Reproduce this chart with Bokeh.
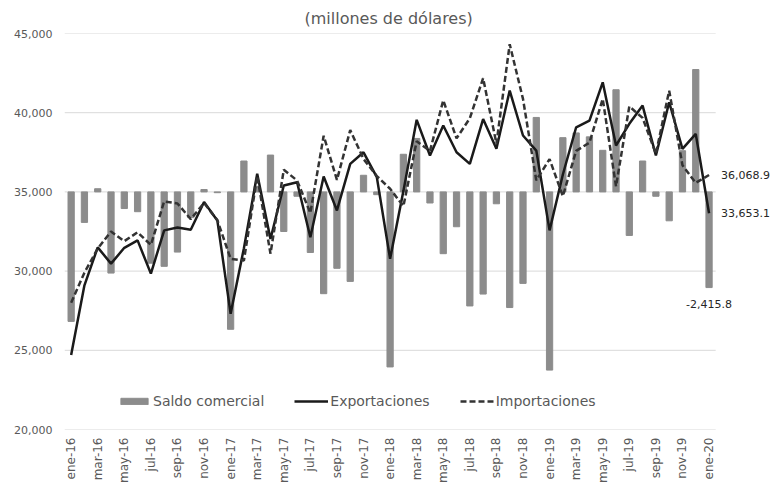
from bokeh.plotting import figure
from bokeh.models import (Range1d, FixedTicker, NumeralTickFormatter, Legend, LegendItem,
                          Label, ColumnDataSource)
from bokeh.embed import file_html
from bokeh.resources import INLINE
import math

months = ["ene-16", "feb-16", "mar-16", "abr-16", "may-16", "jun-16", "jul-16", "ago-16", "sep-16", "oct-16", "nov-16", "dic-16",
          "ene-17", "feb-17", "mar-17", "abr-17", "may-17", "jun-17", "jul-17", "ago-17", "sep-17", "oct-17", "nov-17", "dic-17",
          "ene-18", "feb-18", "mar-18", "abr-18", "may-18", "jun-18", "jul-18", "ago-18", "sep-18", "oct-18", "nov-18", "dic-18",
          "ene-19", "feb-19", "mar-19", "abr-19", "may-19", "jun-19", "jul-19", "ago-19", "sep-19", "oct-19", "nov-19", "dic-19",
          "ene-20"]

exportaciones = [24700, 29100, 31500, 30470, 31470, 31940, 29840, 32570, 32750, 32610, 34360, 33200,
                 27310, 31450, 36140, 32030, 35400, 35610, 32140, 35970, 33830, 36770, 37500, 35930,
                 30780, 35050, 39550, 37300, 39190, 37500, 36770, 39600, 37720, 41400, 38560, 37610,
                 32570, 36100, 39080, 39500, 41920, 37930, 39300, 40450, 37300, 40660, 37720, 38660,
                 33653.1]

importaciones = [28000, 29900, 31420, 32500, 31890, 32450, 31650, 34400, 34270, 33280, 34300, 33220,
                 30780, 30670, 36000, 31100, 36400, 35720, 33670, 38540, 35760, 38900, 37080, 36000,
                 35200, 34100, 38200, 37580, 40780, 38380, 39650, 42180, 38050, 44320, 40870, 35730,
                 37070, 34730, 37590, 38110, 40870, 35350, 40400, 39670, 37410, 41390, 36680, 35570,
                 36068.9]

saldo = [-3270, -770, 80, -2050, -420, -500, -1800, -1880, -1520, -650, 60, -20,
         -3470, 780, 140, 930, -1000, -110, -1530, -2570, -1930, -2260, 420, -70,
         -4420, 950, 1350, -280, -1560, -880, -2880, -2580, -300, -2920, -2310, 1880,
         -4500, 1370, 1490, 1390, 1050, 2580, -1100, 780, -110, -730, 1040, 3090,
         -2415.8]

y_ticks = [20000, 25000, 30000, 35000, 40000, 45000]

n = len(months)
x = list(range(n))
src = ColumnDataSource(dict(x=x, exp=exportaciones, imp=importaciones, sal=saldo))

FONT = "DejaVu Sans"
TXT = "#595959"

# plot area extends a little beyond the last month so the end-value labels are visible
x_pad = 4.5
p = figure(width=781, height=496, output_backend="svg", toolbar_location=None,
           x_range=Range1d(-0.5, n - 0.5 + x_pad), y_range=Range1d(20000, 45000),
           min_border_left=64, min_border_right=6, min_border_top=33, min_border_bottom=67)
p.extra_y_ranges = {"saldo": Range1d(-6000, 4000)}
p.outline_line_color = None
p.background_fill_color = "white"
p.border_fill_color = "white"

p.title.text = "(millones de dólares)"
p.title.align = "left"
p.title.offset = 240
p.title.standoff = 12
p.title.text_font = FONT
p.title.text_font_size = "16px"
p.title.text_font_style = "normal"
p.title.text_color = TXT

# horizontal gridlines spanning only the months
p.segment(x0=-0.5, x1=n - 0.5, y0=y_ticks, y1=y_ticks, line_color="#d9d9d9",
          line_width=1, level="underlay")

bars = p.vbar(x="x", top="sal", bottom=0, width=0.47, y_range_name="saldo",
              color="#8c8c8c", source=src)
l_exp = p.line("x", "exp", source=src, color="#1a1a1a", line_width=2.5)
l_imp = p.line("x", "imp", source=src, color="#333333", line_width=2.5, line_dash="6 3")

for ax in (p.xaxis[0], p.yaxis[0]):
    ax.axis_line_color = None
    ax.major_tick_line_color = None
    ax.minor_tick_line_color = None
    ax.major_tick_out = 0
    ax.major_tick_in = 0
    ax.minor_tick_out = 0
    ax.minor_tick_in = 0
    ax.major_label_text_font = FONT
    ax.major_label_text_color = TXT

p.yaxis.ticker = FixedTicker(ticks=y_ticks)
p.yaxis.formatter = NumeralTickFormatter(format="0,0")
p.yaxis.major_label_text_font_size = "11px"
p.yaxis.major_label_standoff = 12

p.xaxis.ticker = FixedTicker(ticks=x[::2])
p.xaxis.major_label_overrides = {i: months[i] for i in x[::2]}
p.xaxis.major_label_orientation = math.pi / 2
p.xaxis.major_label_text_font_size = "12px"
p.xaxis.major_label_standoff = 8

p.xgrid.grid_line_color = None
p.ygrid.grid_line_color = None

legend = Legend(items=[LegendItem(label="Saldo comercial", renderers=[bars]),
                       LegendItem(label="Exportaciones", renderers=[l_exp]),
                       LegendItem(label="Importaciones", renderers=[l_imp])],
                orientation="horizontal", location=(53, 20),
                glyph_width=34, glyph_height=8, label_standoff=2, spacing=30,
                padding=0, margin=0, border_line_color=None, background_fill_alpha=0,
                label_text_font=FONT, label_text_font_size="14px", label_text_color=TXT)
p.add_layout(legend, "center")

last = n - 1
for val in (importaciones[last], exportaciones[last]):
    p.add_layout(Label(x=last, y=val, x_offset=12, text=f"{val:,.1f}", text_align="left",
                       text_baseline="middle", text_font=FONT, text_font_size="11px",
                       text_color="#262626"))
p.add_layout(Label(x=last, y=saldo[last], y_range_name="saldo", y_offset=-16,
                   text=f"{saldo[last]:,.1f}", text_align="center", text_baseline="middle",
                   text_font=FONT, text_font_size="11px", text_color="#262626"))

open("out.html", "w").write(file_html(p, INLINE))
